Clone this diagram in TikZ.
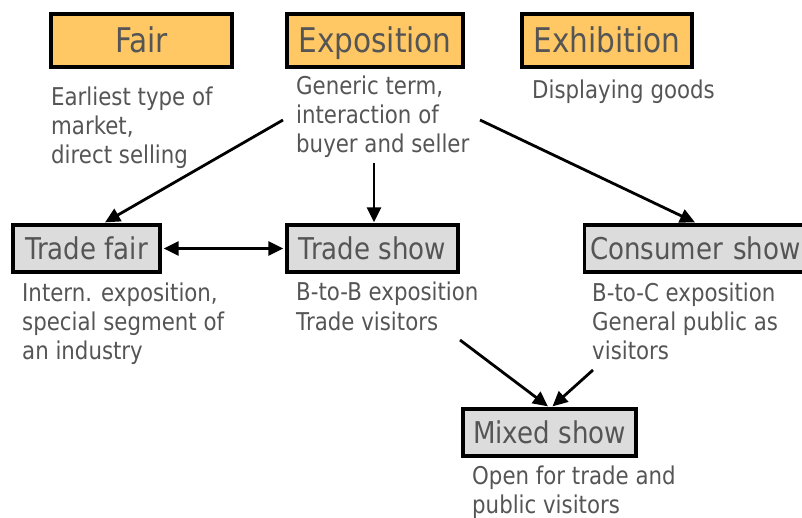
\documentclass[tikz,border=0pt]{standalone}
\usepackage{fontspec}
\setmainfont{DejaVu Sans}[FakeStretch=0.87]
\usetikzlibrary{arrows.meta}
\definecolor{boxorange}{HTML}{FFC864}
\definecolor{boxgray}{HTML}{DCDCDC}
\definecolor{txtgray}{HTML}{555555}
\tikzset{
  topbox/.style={draw=black, line width=3.2pt, fill=boxorange, text=txtgray,
    minimum height=53pt, inner sep=0pt, text height=25pt, text depth=0pt,
    font=\fontsize{34}{36}\selectfont},
  subbox/.style={draw=black, line width=3.2pt, fill=boxgray, text=txtgray,
    minimum height=47pt, inner sep=0pt, text height=22pt, text depth=0pt,
    font=\fontsize{30}{32}\selectfont},
  desc/.style={anchor=base west, inner sep=0pt, align=left, text=txtgray,
    font=\fontsize{24.5}{29}\selectfont},
  arr/.style={line width=2.8pt, -{Triangle[length=15pt,width=14pt]}},
  darr/.style={line width=2.8pt, {Triangle[length=15pt,width=14pt]}-{Triangle[length=15pt,width=14pt]}}
}
\begin{document}
\begin{tikzpicture}[x=1pt,y=-1pt]
\useasboundingbox (0,0) rectangle (802,518);
\clip (0,0) rectangle (802,518);
\fill[white] (0,0) rectangle (802,518);
% top boxes
\node[topbox, minimum width=181pt] (fair) at (141.5,40.5) {Fair};
\node[topbox, minimum width=176pt] (expo) at (375,40.5) {Exposition};
\node[topbox, minimum width=170pt] (exhib) at (607,40.5) {Exhibition};
% descriptions (anchor = baseline of last line)
\node[desc] (fairdesc) at (51,164) {Earliest type of\\market,\\direct selling};
\node[desc] (expodesc) at (296,153) {Generic term,\\interaction of\\buyer and seller};
\node[desc] (exhibdesc) at (532,99) {Displaying goods};
% second row
\node[subbox, minimum width=147pt] (tfair) at (86.5,248.5) {Trade fair};
\node[subbox, minimum width=171pt] (tshow) at (372.5,248.5) {Trade show};
\node[subbox, minimum width=250pt, anchor=west, text width=239pt, align=left] (cshow) at (583,248.5) {Consumer show};
\node[subbox, minimum width=173pt] (mixed) at (549.5,432.5) {Mixed show};
\node[desc] (tfairdesc) at (22,359) {Intern. exposition,\\special segment of\\an industry};
\node[desc] (tshowdesc) at (296,330) {B-to-B exposition\\Trade visitors};
\node[desc] (cshowdesc) at (592,359) {B-to-C exposition\\General public as\\visitors};
\node[desc] (mixeddesc) at (472,513) {Open for trade and\\public visitors};
% connector start points
\coordinate (s1) at (283,120);
\coordinate (s2) at (374,163);
\coordinate (s3) at (480,120);
\coordinate (s4) at (460,340);
\coordinate (s5) at (593,370);
% connectors
\draw[arr] (s1) -- ([xshift=18.5pt,yshift=1pt]tfair.north);
\draw[arr] (s2) -- ([yshift=1pt]s2 |- tshow.north);
\draw[arr] (s3) -- ([xshift=112pt,yshift=1pt]cshow.north west);
\draw[darr, shorten <=2pt, shorten >=2pt] (tfair.east) -- (tshow.west);
\draw[arr] (s4) -- ([xshift=-1.5pt,yshift=1pt]mixed.north);
\draw[arr] (s5) -- ([xshift=3pt,yshift=1pt]mixed.north);
\end{tikzpicture}
\end{document}
